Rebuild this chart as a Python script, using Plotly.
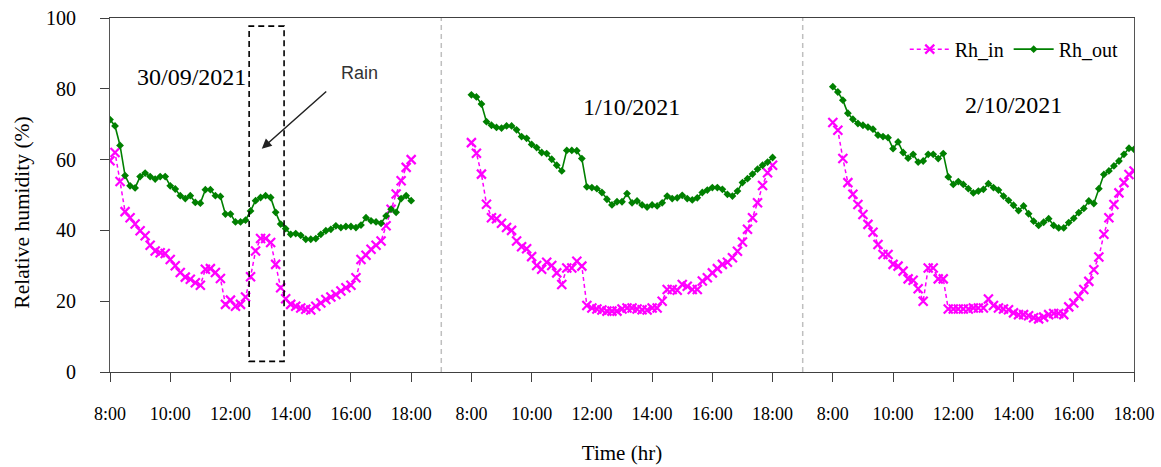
import plotly.graph_objects as go

# Sampling: every 10 minutes from 8:00 to 18:00 (minutes after 8:00)
minutes = list(range(0, 601, 10))
day_labels = ["30/09/2021", "1/10/2021", "2/10/2021"]
day_offsets = [0, 12, 24]  # hours along the shared axis
tick_labels = ["8:00", "10:00", "12:00", "14:00", "16:00", "18:00"]

rh_out_d1 = [71.3, 69.5, 64.0, 55.5, 52.6, 52.0, 55.2, 56.2, 55.2, 54.5, 55.2, 55.2, 52.6, 51.7, 49.8, 49.0,
             49.8, 47.9, 47.7, 51.5, 51.5, 49.8, 49.6, 44.6, 44.6, 42.4, 42.4, 42.9, 45.5, 48.4, 49.3, 49.8,
             49.3, 45.1, 41.8, 40.5, 38.9, 39.1, 38.6, 37.5, 37.5, 37.7, 38.9, 39.9, 40.3, 41.3, 40.8, 41.1,
             41.1, 40.8, 41.5, 43.6, 42.7, 42.4, 42.0, 44.1, 46.0, 45.1, 49.0, 49.8, 48.4]
rh_in_d1 = [59.7, 62.0, 53.8, 45.3, 43.6, 41.8, 39.9, 38.5, 35.8, 34.2, 33.7, 33.5, 31.8, 30.0, 28.1, 26.8,
            26.2, 25.2, 24.5, 29.0, 29.2, 28.1, 26.4, 19.1, 20.3, 18.6, 19.1, 21.2, 26.9, 34.2, 37.7, 37.7,
            36.6, 30.4, 23.8, 20.7, 19.1, 18.6, 18.1, 17.7, 17.5, 18.6, 19.5, 20.5, 21.2, 21.9, 22.9, 23.8,
            24.5, 26.6, 31.8, 33.0, 34.7, 35.8, 37.0, 41.3, 46.0, 50.3, 54.0, 57.8, 60.0]
rh_out_d2 = [78.3, 77.7, 75.7, 70.7, 69.7, 69.1, 68.9, 69.5, 69.5, 68.4, 66.5, 66.0, 64.3, 63.4, 62.0, 61.7,
             60.1, 58.4, 56.8, 62.6, 62.6, 62.5, 60.3, 52.3, 52.1, 51.8, 50.7, 48.8, 47.2, 48.1, 48.1, 50.4,
             47.8, 48.3, 47.2, 46.6, 47.2, 46.9, 47.8, 49.7, 49.0, 49.2, 49.9, 49.0, 48.6, 49.2, 50.7, 51.4,
             52.1, 52.1, 51.6, 50.2, 49.7, 51.1, 53.5, 54.6, 55.9, 57.3, 58.4, 59.3, 60.6]
rh_in_d2 = [64.8, 61.8, 55.9, 47.4, 43.6, 43.3, 42.0, 40.8, 40.0, 37.0, 35.4, 34.8, 32.6, 30.1, 29.0, 31.0,
            30.1, 28.0, 24.7, 29.4, 29.4, 31.3, 29.9, 18.8, 18.1, 17.8, 17.5, 17.2, 17.2, 17.2, 17.8, 18.1,
            18.1, 17.8, 17.6, 17.5, 18.1, 18.1, 20.0, 23.3, 23.3, 23.1, 24.7, 24.2, 23.3, 23.3, 25.7, 26.6,
            28.0, 29.2, 30.4, 31.0, 32.3, 34.1, 36.7, 40.3, 43.6, 47.8, 52.7, 56.3, 58.4]
rh_out_d3 = [80.6, 79.1, 76.8, 73.1, 71.4, 70.2, 69.7, 69.2, 68.6, 66.9, 66.5, 66.2, 63.1, 65.0, 62.0, 60.4,
             61.5, 59.3, 59.6, 61.5, 61.5, 60.3, 61.7, 55.1, 53.0, 53.8, 53.0, 51.8, 50.6, 51.1, 51.6, 53.2,
             52.1, 51.4, 49.7, 48.5, 47.1, 45.6, 46.9, 44.7, 42.6, 41.4, 42.3, 43.3, 41.4, 40.7, 40.7, 42.2,
             43.4, 45.0, 46.2, 48.3, 47.6, 51.8, 55.8, 56.8, 58.2, 59.6, 61.5, 63.2, 62.9]
rh_in_d3 = [70.5, 68.3, 60.3, 53.5, 50.2, 47.3, 44.5, 41.7, 39.5, 36.0, 33.2, 33.2, 30.4, 29.9, 28.5, 26.3,
            25.9, 23.5, 20.0, 29.4, 29.4, 26.3, 26.3, 17.8, 17.8, 17.8, 17.8, 17.8, 18.1, 18.1, 18.1, 20.6,
            18.8, 18.1, 17.8, 17.6, 16.7, 16.2, 16.2, 15.9, 15.3, 15.0, 15.5, 16.2, 16.5, 16.5, 16.2, 18.4,
            19.5, 21.4, 23.3, 25.6, 28.9, 32.5, 38.9, 43.6, 47.3, 50.6, 53.5, 55.8, 56.8]

rh_in_days = [rh_in_d1, rh_in_d2, rh_in_d3]
rh_out_days = [rh_out_d1, rh_out_d2, rh_out_d3]


def join_days(days):
    xs, ys = [], []
    for off, vals in zip(day_offsets, days):
        xs += [off + m / 60 for m in minutes] + [None]
        ys += list(vals) + [None]
    return xs, ys


x_in, y_in = join_days(rh_in_days)
x_out, y_out = join_days(rh_out_days)

SERIF = "Liberation Serif, Times New Roman, serif"

fig = go.Figure()
fig.add_trace(go.Scatter(
    x=x_in, y=y_in, name="Rh_in", mode="lines+markers",
    line=dict(color="#FF00FF", width=1.5, dash="4px,3px"),
    marker=dict(symbol="x-thin", size=9, line=dict(color="#FF00FF", width=2.2)),
    connectgaps=False,
))
fig.add_trace(go.Scatter(
    x=x_out, y=y_out, name="Rh_out", mode="lines+markers",
    line=dict(color="#008000", width=1.6),
    marker=dict(symbol="diamond", size=6, color="#008000"),
    connectgaps=False,
))

tickvals, ticktext = [], []
for off in day_offsets:
    for i, lab in enumerate(tick_labels):
        tickvals.append(off + 2 * i)
        ticktext.append(lab)

# day separators
for xsep in [11, 23]:
    fig.add_shape(type="line", xref="x", yref="y", x0=xsep, x1=xsep, y0=0, y1=100,
                  line=dict(color="#BFBFBF", width=1.5, dash="5px,4px"))

# rain box
fig.add_shape(type="rect", xref="x", yref="y", x0=4.62, x1=5.78, y0=3.0, y1=97.7,
              line=dict(color="black", width=1.6, dash="6px,4px"))
fig.add_annotation(x=5.04, y=63.1, ax=7.23, ay=79.6, xref="x", yref="y", axref="x", ayref="y",
                   text="", showarrow=True, arrowhead=2, arrowsize=1.3, arrowwidth=1.5, arrowcolor="#222")
fig.add_annotation(x=8.3, y=84.4, xref="x", yref="y", text="Rain", showarrow=False,
                   font=dict(family="Liberation Sans, Arial, sans-serif", size=18, color="#333"))

# date labels
for lab, xx, yy in zip(day_labels, [2.7, 17.3, 30.0], [83.3, 75.0, 75.5]):
    fig.add_annotation(x=xx, y=yy, xref="x", yref="y", text=lab, showarrow=False,
                       font=dict(family=SERIF, size=24, color="black"))

# y-axis title (placed slightly below the plot centre, as in the reference)
fig.add_annotation(x=-0.086, y=0.45, xref="paper", yref="paper", text="Relative humidity (%)",
                   textangle=-90, showarrow=False, xanchor="center", yanchor="middle",
                   font=dict(family=SERIF, size=21.5, color="black"))

fig.update_layout(
    width=1161, height=467,
    margin=dict(l=110, r=27, t=18, b=95),
    paper_bgcolor="white", plot_bgcolor="white",
    font=dict(family=SERIF, color="black"),
    showlegend=True,
    legend=dict(orientation="h", x=0.99, xanchor="right", y=0.912, yanchor="middle",
                font=dict(family=SERIF, size=20, color="black"), bgcolor="rgba(0,0,0,0)",
                itemwidth=40, tracegroupgap=0),
    xaxis=dict(range=[0, 34], tickmode="array", tickvals=tickvals, ticktext=ticktext,
               automargin=False,
               showgrid=False, zeroline=False, showline=True, linecolor="#404040", linewidth=1.2,
               mirror=True, ticks="outside", ticklen=9, tickcolor="#404040",
               tickfont=dict(family=SERIF, size=18, color="black"), ticklabelstandoff=16,
               title=dict(text="Time (hr)", font=dict(family=SERIF, size=21, color="black"), standoff=22)),
    yaxis=dict(range=[0, 100], tickvals=[0, 20, 40, 60, 80, 100],
               automargin=False,
               showgrid=False, zeroline=False, showline=True, linecolor="#555", linewidth=1.2,
               mirror=True, ticks="outside", ticklen=9, tickcolor="#404040",
               tickfont=dict(family=SERIF, size=20, color="black"), ticklabelstandoff=20),
)

fig.write_html("out.html")
